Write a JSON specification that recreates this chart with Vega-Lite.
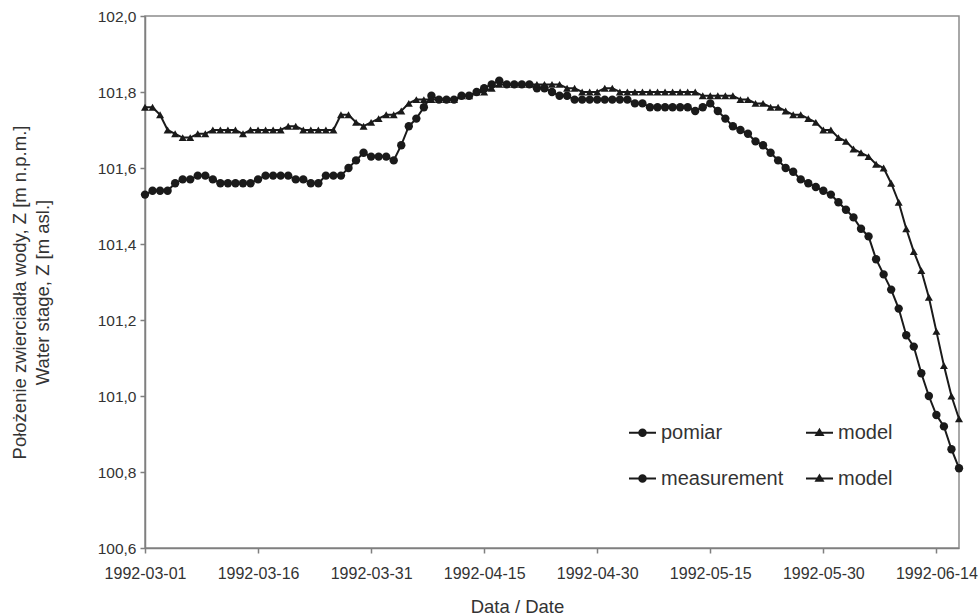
{
  "$schema": "https://vega.github.io/schema/vega-lite/v6.json",
  "autosize": {"type": "none"},
  "width": 814,
  "height": 532,
  "padding": {"left": 145, "top": 16, "right": 20, "bottom": 68},
  "background": "#ffffff",
  "config": {
    "font": "Liberation Sans",
    "view": {"stroke": "#8c8c8c", "strokeWidth": 1.5},
    "axis": {"grid": false, "domainColor": "#7f7f7f", "domainWidth": 1.5, "tickColor": "#7f7f7f", "tickWidth": 1.5, "tickSize": 5, "labelColor": "#333333", "titleColor": "#333333", "labelFont": "Liberation Sans", "titleFont": "Liberation Sans", "labelFontSize": 16, "titleFontSize": 18.5, "titleFontWeight": "normal"}
  },
  "data": {"values": [
    {"date":"1992-03-01","pomiar":101.53,"model":101.76},
    {"date":"1992-03-02","pomiar":101.54,"model":101.76},
    {"date":"1992-03-03","pomiar":101.54,"model":101.74},
    {"date":"1992-03-04","pomiar":101.54,"model":101.70},
    {"date":"1992-03-05","pomiar":101.56,"model":101.69},
    {"date":"1992-03-06","pomiar":101.57,"model":101.68},
    {"date":"1992-03-07","pomiar":101.57,"model":101.68},
    {"date":"1992-03-08","pomiar":101.58,"model":101.69},
    {"date":"1992-03-09","pomiar":101.58,"model":101.69},
    {"date":"1992-03-10","pomiar":101.57,"model":101.70},
    {"date":"1992-03-11","pomiar":101.56,"model":101.70},
    {"date":"1992-03-12","pomiar":101.56,"model":101.70},
    {"date":"1992-03-13","pomiar":101.56,"model":101.70},
    {"date":"1992-03-14","pomiar":101.56,"model":101.69},
    {"date":"1992-03-15","pomiar":101.56,"model":101.70},
    {"date":"1992-03-16","pomiar":101.57,"model":101.70},
    {"date":"1992-03-17","pomiar":101.58,"model":101.70},
    {"date":"1992-03-18","pomiar":101.58,"model":101.70},
    {"date":"1992-03-19","pomiar":101.58,"model":101.70},
    {"date":"1992-03-20","pomiar":101.58,"model":101.71},
    {"date":"1992-03-21","pomiar":101.57,"model":101.71},
    {"date":"1992-03-22","pomiar":101.57,"model":101.70},
    {"date":"1992-03-23","pomiar":101.56,"model":101.70},
    {"date":"1992-03-24","pomiar":101.56,"model":101.70},
    {"date":"1992-03-25","pomiar":101.58,"model":101.70},
    {"date":"1992-03-26","pomiar":101.58,"model":101.70},
    {"date":"1992-03-27","pomiar":101.58,"model":101.74},
    {"date":"1992-03-28","pomiar":101.60,"model":101.74},
    {"date":"1992-03-29","pomiar":101.62,"model":101.72},
    {"date":"1992-03-30","pomiar":101.64,"model":101.71},
    {"date":"1992-03-31","pomiar":101.63,"model":101.72},
    {"date":"1992-04-01","pomiar":101.63,"model":101.73},
    {"date":"1992-04-02","pomiar":101.63,"model":101.74},
    {"date":"1992-04-03","pomiar":101.62,"model":101.74},
    {"date":"1992-04-04","pomiar":101.66,"model":101.75},
    {"date":"1992-04-05","pomiar":101.71,"model":101.77},
    {"date":"1992-04-06","pomiar":101.73,"model":101.78},
    {"date":"1992-04-07","pomiar":101.76,"model":101.78},
    {"date":"1992-04-08","pomiar":101.79,"model":101.78},
    {"date":"1992-04-09","pomiar":101.78,"model":101.78},
    {"date":"1992-04-10","pomiar":101.78,"model":101.78},
    {"date":"1992-04-11","pomiar":101.78,"model":101.78},
    {"date":"1992-04-12","pomiar":101.79,"model":101.79},
    {"date":"1992-04-13","pomiar":101.79,"model":101.79},
    {"date":"1992-04-14","pomiar":101.80,"model":101.80},
    {"date":"1992-04-15","pomiar":101.81,"model":101.80},
    {"date":"1992-04-16","pomiar":101.82,"model":101.81},
    {"date":"1992-04-17","pomiar":101.83,"model":101.82},
    {"date":"1992-04-18","pomiar":101.82,"model":101.82},
    {"date":"1992-04-19","pomiar":101.82,"model":101.82},
    {"date":"1992-04-20","pomiar":101.82,"model":101.82},
    {"date":"1992-04-21","pomiar":101.82,"model":101.82},
    {"date":"1992-04-22","pomiar":101.81,"model":101.82},
    {"date":"1992-04-23","pomiar":101.81,"model":101.82},
    {"date":"1992-04-24","pomiar":101.80,"model":101.82},
    {"date":"1992-04-25","pomiar":101.79,"model":101.82},
    {"date":"1992-04-26","pomiar":101.79,"model":101.81},
    {"date":"1992-04-27","pomiar":101.78,"model":101.81},
    {"date":"1992-04-28","pomiar":101.78,"model":101.80},
    {"date":"1992-04-29","pomiar":101.78,"model":101.80},
    {"date":"1992-04-30","pomiar":101.78,"model":101.80},
    {"date":"1992-05-01","pomiar":101.78,"model":101.81},
    {"date":"1992-05-02","pomiar":101.78,"model":101.81},
    {"date":"1992-05-03","pomiar":101.78,"model":101.80},
    {"date":"1992-05-04","pomiar":101.78,"model":101.80},
    {"date":"1992-05-05","pomiar":101.77,"model":101.80},
    {"date":"1992-05-06","pomiar":101.77,"model":101.80},
    {"date":"1992-05-07","pomiar":101.76,"model":101.80},
    {"date":"1992-05-08","pomiar":101.76,"model":101.80},
    {"date":"1992-05-09","pomiar":101.76,"model":101.80},
    {"date":"1992-05-10","pomiar":101.76,"model":101.80},
    {"date":"1992-05-11","pomiar":101.76,"model":101.80},
    {"date":"1992-05-12","pomiar":101.76,"model":101.80},
    {"date":"1992-05-13","pomiar":101.75,"model":101.80},
    {"date":"1992-05-14","pomiar":101.76,"model":101.79},
    {"date":"1992-05-15","pomiar":101.77,"model":101.79},
    {"date":"1992-05-16","pomiar":101.75,"model":101.79},
    {"date":"1992-05-17","pomiar":101.73,"model":101.79},
    {"date":"1992-05-18","pomiar":101.71,"model":101.79},
    {"date":"1992-05-19","pomiar":101.70,"model":101.78},
    {"date":"1992-05-20","pomiar":101.69,"model":101.78},
    {"date":"1992-05-21","pomiar":101.67,"model":101.77},
    {"date":"1992-05-22","pomiar":101.66,"model":101.77},
    {"date":"1992-05-23","pomiar":101.64,"model":101.76},
    {"date":"1992-05-24","pomiar":101.62,"model":101.76},
    {"date":"1992-05-25","pomiar":101.60,"model":101.75},
    {"date":"1992-05-26","pomiar":101.59,"model":101.74},
    {"date":"1992-05-27","pomiar":101.57,"model":101.74},
    {"date":"1992-05-28","pomiar":101.56,"model":101.73},
    {"date":"1992-05-29","pomiar":101.55,"model":101.72},
    {"date":"1992-05-30","pomiar":101.54,"model":101.70},
    {"date":"1992-05-31","pomiar":101.53,"model":101.70},
    {"date":"1992-06-01","pomiar":101.51,"model":101.68},
    {"date":"1992-06-02","pomiar":101.49,"model":101.67},
    {"date":"1992-06-03","pomiar":101.47,"model":101.65},
    {"date":"1992-06-04","pomiar":101.44,"model":101.64},
    {"date":"1992-06-05","pomiar":101.42,"model":101.63},
    {"date":"1992-06-06","pomiar":101.36,"model":101.61},
    {"date":"1992-06-07","pomiar":101.32,"model":101.60},
    {"date":"1992-06-08","pomiar":101.28,"model":101.56},
    {"date":"1992-06-09","pomiar":101.23,"model":101.51},
    {"date":"1992-06-10","pomiar":101.16,"model":101.44},
    {"date":"1992-06-11","pomiar":101.13,"model":101.38},
    {"date":"1992-06-12","pomiar":101.06,"model":101.33},
    {"date":"1992-06-13","pomiar":101.00,"model":101.26},
    {"date":"1992-06-14","pomiar":100.95,"model":101.17},
    {"date":"1992-06-15","pomiar":100.92,"model":101.08},
    {"date":"1992-06-16","pomiar":100.86,"model":101.00},
    {"date":"1992-06-17","pomiar":100.81,"model":100.94}
  ]},
  "transform": [{"fold": ["pomiar", "model"], "as": ["series", "z"]}],
  "encoding": {
    "x": {
      "field": "date", "type": "temporal",
      "scale": {"type": "utc", "domain": [{"year":1992,"month":3,"date":1,"utc":true},{"year":1992,"month":6,"date":17,"utc":true}], "nice": false},
      "axis": {
        "title": "Data / Date",
        "labelExpr": "utcFormat(datum.value, '%Y-%m-%d')",
        "values": [
          {"year":1992,"month":3,"date":1,"utc":true},
          {"year":1992,"month":3,"date":16,"utc":true},
          {"year":1992,"month":3,"date":31,"utc":true},
          {"year":1992,"month":4,"date":15,"utc":true},
          {"year":1992,"month":4,"date":30,"utc":true},
          {"year":1992,"month":5,"date":15,"utc":true},
          {"year":1992,"month":5,"date":30,"utc":true},
          {"year":1992,"month":6,"date":14,"utc":true}
        ],
        "labelPadding": 12,
        "labelOverlap": false,
        "labelFlush": false,
        "titleX": 372,
        "titleY": 58,
        "titleAnchor": null,
        "titleAlign": "center",
        "titleBaseline": "middle"
      }
    },
    "y": {
      "field": "z", "type": "quantitative",
      "scale": {"domain": [100.6, 102.0], "nice": false, "zero": false},
      "axis": {
        "title": ["Położenie zwierciadła wody, Z [m n.p.m.]", "Water stage, Z [m asl.]"],
        "values": [100.6, 100.8, 101.0, 101.2, 101.4, 101.6, 101.8, 102.0],
        "labelExpr": "replace(format(datum.value, '.1f'), '.', ',')",
        "labelFontSize": 15.5,
        "labelPadding": 4,
        "titleX": -126,
        "titleY": 276,
        "titleAngle": -90,
        "titleAlign": "center",
        "titleBaseline": "middle",
        "titleLineHeight": 23
      }
    }
  },
  "layer": [
    {
      "mark": {"type": "line", "color": "#1a1a1a", "strokeWidth": 2},
      "encoding": {"detail": {"field": "series"}}
    },
    {
      "transform": [{"filter": "datum.series === 'pomiar'"}],
      "mark": {"type": "point", "shape": "circle", "filled": true, "color": "#1a1a1a", "size": 70, "opacity": 1},
      "encoding": {}
    },
    {
      "transform": [{"filter": "datum.series === 'model'"}],
      "mark": {"type": "point", "shape": "triangle-up", "filled": true, "color": "#1a1a1a", "size": 64, "opacity": 1},
      "encoding": {}
    },
    {
      "transform": [{"filter": "false"}],
      "mark": {"type": "point", "filled": false, "color": "#1a1a1a", "strokeWidth": 2, "opacity": 1},
      "encoding": {
        "shape": {
          "field": "series", "type": "nominal",
          "scale": {"domain": ["pomiar", "model", "measurement", "model "], "range": [
            "M-1,0H1M-0.24,0A0.24,0.24 0 1,0 0.24,0A0.24,0.24 0 1,0 -0.24,0ZM-0.09,0A0.09,0.09 0 1,0 0.09,0A0.09,0.09 0 1,0 -0.09,0Z",
            "M-1,0H1M0,-0.22L0.24,0.17L-0.24,0.17ZM0,-0.08L0.09,0.08L-0.09,0.08Z",
            "M-1,0H1M-0.24,0A0.24,0.24 0 1,0 0.24,0A0.24,0.24 0 1,0 -0.24,0ZM-0.09,0A0.09,0.09 0 1,0 0.09,0A0.09,0.09 0 1,0 -0.09,0Z",
            "M-1,0H1M0,-0.22L0.24,0.17L-0.24,0.17ZM0,-0.08L0.09,0.08L-0.09,0.08Z"
          ]},
          "legend": {
            "orient": "none",
            "legendX": 483,
            "legendY": 402,
            "direction": "horizontal",
            "columns": 2,
            "title": null,
            "labelFontSize": 20,
            "labelColor": "#333333",
            "labelFont": "Liberation Sans",
            "labelOffset": 4,
            "columnPadding": 18,
            "rowPadding": 21,
            "symbolSize": 729,
            "symbolStrokeWidth": 2,
            "symbolStrokeColor": "#1a1a1a",
            "symbolOpacity": 1
          }
        }
      }
    }
  ]
}
